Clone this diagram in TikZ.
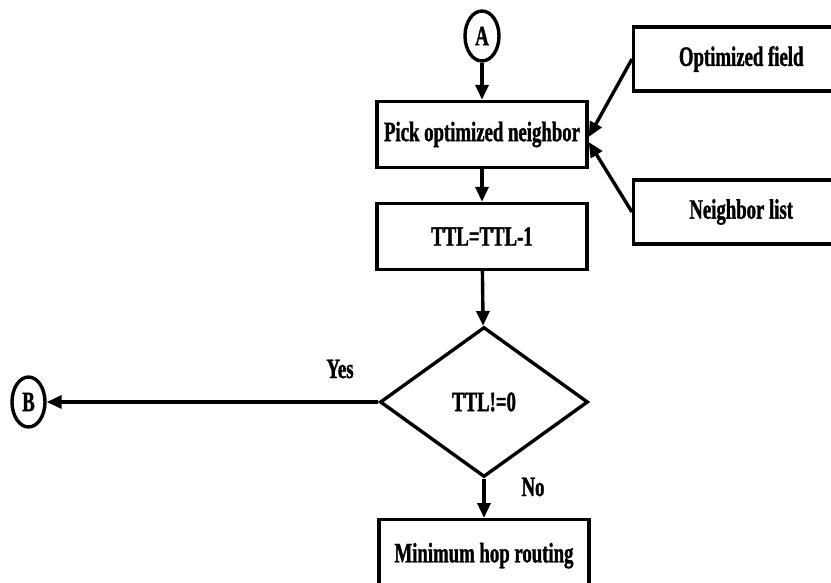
\documentclass[tikz,border=0pt]{standalone}
\usepackage{fontspec}
\setmainfont[FakeStretch=0.67,BoldFeatures={FakeBold=1.2}]{Liberation Serif}
\usetikzlibrary{shapes.geometric,arrows.meta}

\begin{document}
\begin{tikzpicture}[x=1pt,y=-1pt,
  font=\bfseries\fontsize{28}{32}\selectfont,
  line width=3.4pt,
  proc/.style={draw, rectangle, minimum width=210pt, minimum height=66pt, inner sep=0pt},
  conn/.style={draw, ellipse, minimum width=34pt, minimum height=50pt, inner sep=0pt},
  decision/.style={draw, diamond, aspect=1.4, minimum width=208pt, minimum height=150pt, inner sep=0pt},
  flow/.style={-{Triangle[length=15pt,width=13pt]}},
  tag/.style={inner sep=0pt}]
\useasboundingbox (0,0) rectangle (831,583);
\clip (0,0) rectangle (831,583);

% main column
\node[conn] (A) at (482,36) {A};
\node[proc] (pick) at (482,134.5) {Pick optimized neighbor};
\node[proc] (ttl) at (482,236.5) {TTL=TTL-1};
\node[decision] (dec) at (484,402) {TTL!=0};
\node[proc, minimum height=72pt, anchor=north] (hop) at (484,518) {\raisebox{4pt}{Minimum hop routing}};

% exit connector
\node[conn, minimum width=33pt] (B) at (28.5,402) {B};

% inputs on the right
\node[proc, minimum width=215pt, minimum height=64pt, anchor=west] (field) at (632,59) {Optimized field};
\node[proc, minimum width=215pt, minimum height=64pt, anchor=west] (nbr) at (632,212) {Neighbor list};

% branch labels
\node[tag] (yes) at (340,369) {Yes};
\node[tag] (no) at (533,487) {No};

% connectors
\draw[flow] (A) -- (pick);
\draw[flow] (pick) -- (ttl);
\draw[flow] (ttl) -- (dec);
\draw[flow] (dec.west) -- (B.east);
\draw[flow] (dec.south) -- (hop.north);
\draw[flow] (field.west) -- ([yshift=-2.5pt]pick.east);
\draw[flow] (nbr.west) -- ([yshift=-7.5pt]pick.east);
\end{tikzpicture}
\end{document}
